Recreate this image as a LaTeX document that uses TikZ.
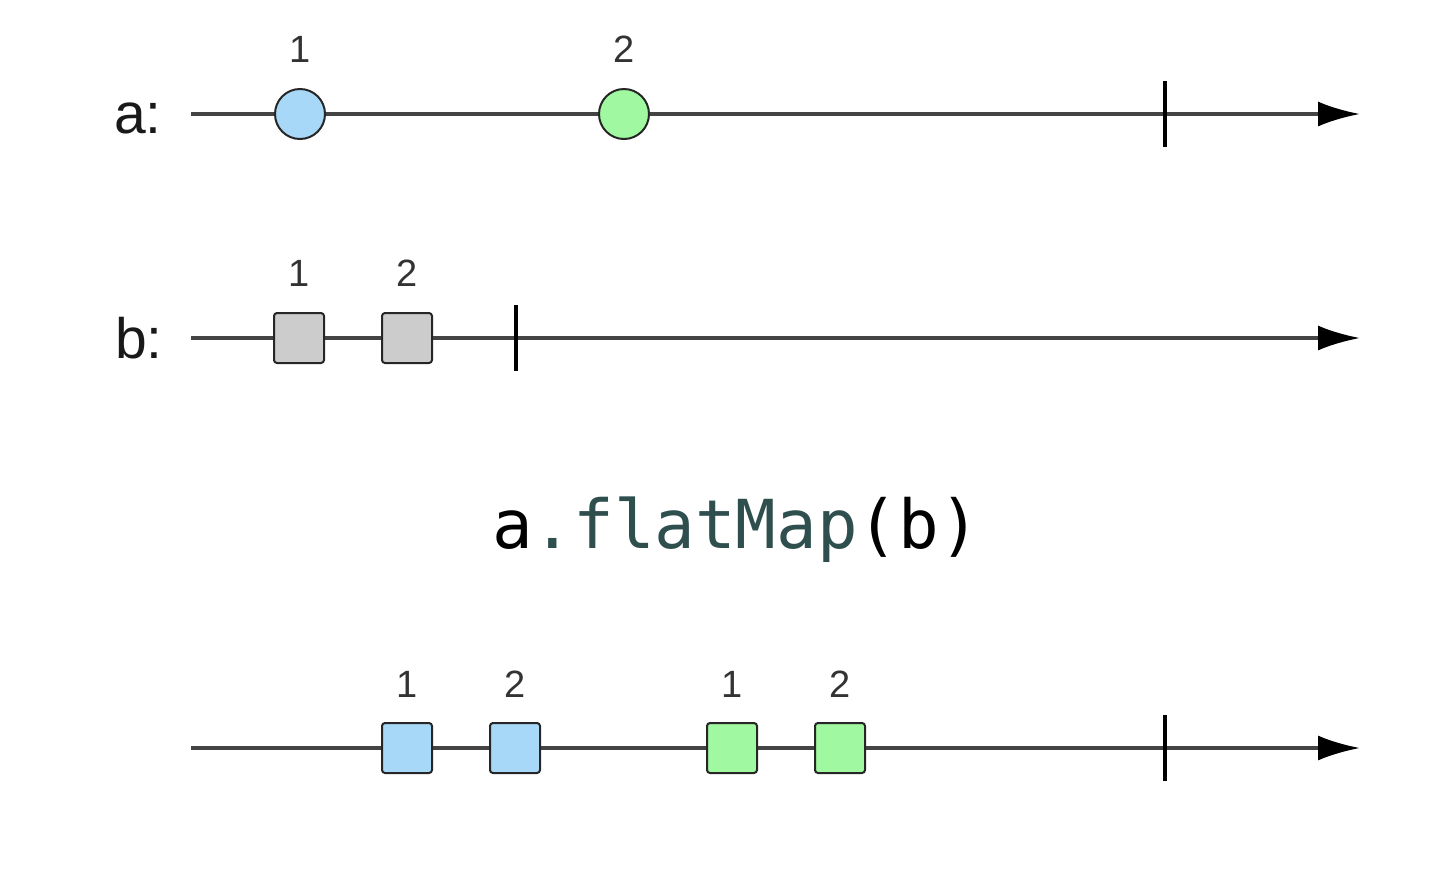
\documentclass[tikz,border=0pt]{standalone}
\usepackage{fontspec}
\setmainfont{Liberation Sans}
\setmonofont{DejaVu Sans Mono}
\usetikzlibrary{arrows.meta}
\definecolor{marbleblue}{HTML}{A8D8F8}
\definecolor{marblegreen}{HTML}{A0F8A0}
\definecolor{marblegray}{HTML}{CCCCCC}
\definecolor{opteal}{HTML}{2F4F4F}
\definecolor{linegray}{HTML}{444444}
\tikzset{
  timeline/.style={line width=3.5pt, draw=linegray, -{Latex[length=42pt,width=25pt,black]}},
  endtick/.style={line width=4pt, draw=black},
  circmarble/.style={circle, draw=black!85, line width=2pt, minimum size=50pt, inner sep=0pt},
  sqmarble/.style={rectangle, rounded corners=3pt, draw=black!85, line width=2pt, minimum size=50pt, inner sep=0pt},
  num/.style={inner sep=0pt, text=black!80, font=\fontsize{38}{40}\selectfont},
  streamname/.style={inner sep=0pt, anchor=base, text=black!90, font=\fontsize{57}{60}\selectfont}
}

\begin{document}
\begin{tikzpicture}[x=1pt, y=-1pt]
    \useasboundingbox (0,0) rectangle (1434,884);
    % stream a
    \node [streamname] (alabel) at (138,133) {a:};
    \coordinate (astart) at (191,114);
    \coordinate (aend) at (1360,114);
    \draw [timeline] (astart) to (aend);
    \coordinate (atop) at (1165,81); % completion
    \coordinate (abot) at (1165,147);
    \draw [endtick] (atop) to (abot);
    \node [circmarble, fill=marbleblue] (a1) at (300,114) {};
    \node [num] (a1num) at (300,49) {1};
    \node [circmarble, fill=marblegreen] (a2) at (624,114) {};
    \node [num] (a2num) at (624,49) {2};
    % stream b
    \node [streamname] (blabel) at (139,358) {b:};
    \coordinate (bstart) at (191,338);
    \coordinate (bend) at (1360,338);
    \draw [timeline] (bstart) to (bend);
    \coordinate (btop) at (516,305); % completion
    \coordinate (bbot) at (516,371);
    \draw [endtick] (btop) to (bbot);
    \node [sqmarble, fill=marblegray] (b1) at (299,338) {};
    \node [num] (b1num) at (299,273) {1};
    \node [sqmarble, fill=marblegray] (b2) at (407,338) {};
    \node [num] (b2num) at (407,273) {2};
    % operator
    \node [inner sep=0pt, anchor=base, font=\ttfamily\fontsize{67.5}{70}\selectfont] (op) at (736,548)
        {a\textcolor{opteal}{.flatMap}(b)};
    % result
    \coordinate (rstart) at (191,748);
    \coordinate (rend) at (1360,748);
    \draw [timeline] (rstart) to (rend);
    \coordinate (rtop) at (1165,715); % completion
    \coordinate (rbot) at (1165,781);
    \draw [endtick] (rtop) to (rbot);
    \node [sqmarble, fill=marbleblue] (r1) at (407,748) {};
    \node [num] (r1num) at (407,684) {1};
    \node [sqmarble, fill=marbleblue] (r2) at (515,748) {};
    \node [num] (r2num) at (515,684) {2};
    \node [sqmarble, fill=marblegreen] (r3) at (732,748) {};
    \node [num] (r3num) at (732,684) {1};
    \node [sqmarble, fill=marblegreen] (r4) at (840,748) {};
    \node [num] (r4num) at (840,684) {2};
\end{tikzpicture}
\end{document}
